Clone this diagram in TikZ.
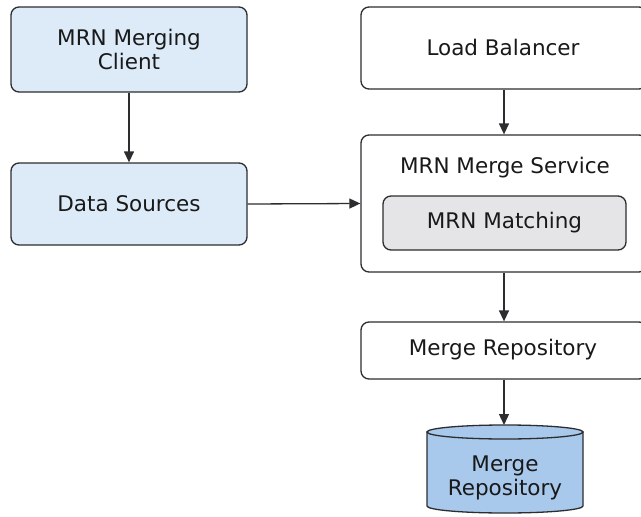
\documentclass[tikz,border=0pt]{standalone}
\usepackage{fontspec}
\setmainfont{DejaVu Sans}
\usetikzlibrary{arrows.meta}
\definecolor{bluefill}{RGB}{221,235,249}
\definecolor{grayfill}{RGB}{229,229,231}
\definecolor{dbfill}{RGB}{168,200,236}
\definecolor{edge}{RGB}{45,45,48}
\tikzset{
  box/.style={draw=edge, line width=1.3pt, rounded corners=8pt, inner sep=0pt, align=center,
    font=\fontsize{21.5}{24}\selectfont, text=black!90},
  lbl/.style={inner sep=0pt, align=center, font=\fontsize{21.5}{24}\selectfont, text=black!90},
  conn/.style={draw=edge, line width=1.3pt, -{Triangle[width=10pt,length=11pt]}}
}
\begin{document}
\begin{tikzpicture}[x=1pt,y=-1pt]
\useasboundingbox (0,0) rectangle (641,517);
\clip (0,0) rectangle (641,517);
\fill[white] (0,0) rectangle (641,517);
% left column
\node[box, fill=bluefill, minimum width=236pt, minimum height=85pt] (client) at (129,49.5) {MRN Merging\\Client};
\node[box, fill=bluefill, minimum width=236pt, minimum height=82pt] (data) at (129,204) {Data Sources};
% right column
\node[box, fill=white, minimum width=286pt, minimum height=82pt] (lb) at (504,48) {};
\node[lbl] (lbtext) at (503,47) {Load Balancer};
\node[box, fill=white, minimum width=286pt, minimum height=137pt] (mms) at (504,203.5) {};
\node[lbl] (mmstitle) at (505,168) {MRN Merge Service};
\node[box, fill=grayfill, minimum width=243pt, minimum height=54pt] (match) at (504.5,223) {MRN Matching};
\node[box, fill=white, minimum width=286pt, minimum height=57pt] (repo) at (504,350.5) {};
\node[lbl] (repotext) at (503,350) {Merge Repository};
% cylinder
\filldraw[fill=dbfill, draw=edge, line width=1.3pt]
  (427,432) -- (427,506) arc[start angle=180, end angle=0, x radius=78, y radius=7] -- (583,432) -- cycle;
\filldraw[fill=dbfill, draw=edge, line width=1.3pt] (505,432) ellipse [x radius=78, y radius=7];
\node[lbl, minimum width=156pt, minimum height=60pt] (db) at (505,478) {Merge\\Repository};
\coordinate (dbtop) at (504,425);
% connectors
\draw[conn] (client.south) -- (data.north);
\draw[conn] (data.east) -- (mms.west);
\draw[conn] (lb.south) -- (mms.north);
\draw[conn] (mms.south) -- (repo.north);
\draw[conn] (repo.south) -- (dbtop);
\end{tikzpicture}
\end{document}
